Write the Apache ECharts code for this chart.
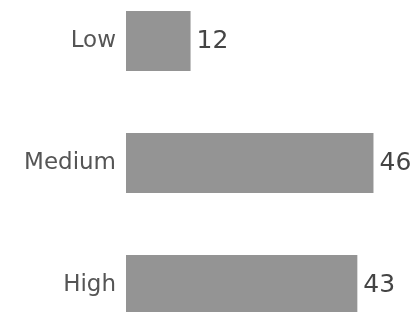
<!DOCTYPE html>
<html>
<head>
<meta charset="utf-8">
<script src="https://cdn.jsdelivr.net/npm/echarts@6/dist/echarts.min.js"></script>
<style>
  html, body { margin: 0; padding: 0; background: #fff; overflow: hidden; }
  #wrap { position: relative; width: 419px; height: 312px; overflow: hidden; }
  /* the plot runs past the window at top and bottom, like the reference */
  #main { position: absolute; left: 0; top: -20px; width: 419px; height: 366px; }
</style>
</head>
<body>
<div id="wrap"><div id="main"></div></div>
<script>
var categories = ['Low', 'Medium', 'High'];
var counts = [12, 46, 43];

var myChart = echarts.init(document.getElementById('main'));
var options = {
    animation: false,
    grid: {
        left: 126,
        right: 24,
        top: 0,
        bottom: 0,
        containLabel: false
    },
    xAxis: {
        type: 'value',
        min: 0,
        max: 50,
        show: false
    },
    yAxis: {
        type: 'category',
        data: categories,
        inverse: true,
        axisLine: { show: false },
        axisTick: { show: false },
        splitLine: { show: false },
        axisLabel: {
            margin: 10,
            color: '#555',
            fontFamily: 'DejaVu Sans',
            fontSize: 23
        }
    },
    series: [{
        type: 'bar',
        data: counts,
        barWidth: 60,
        itemStyle: { color: '#949494' },
        label: {
            show: true,
            position: 'right',
            distance: 6,
            color: '#444',
            fontFamily: 'DejaVu Sans',
            fontSize: 25
        }
    }]
};
myChart.setOption(options);
</script>
</body>
</html>
